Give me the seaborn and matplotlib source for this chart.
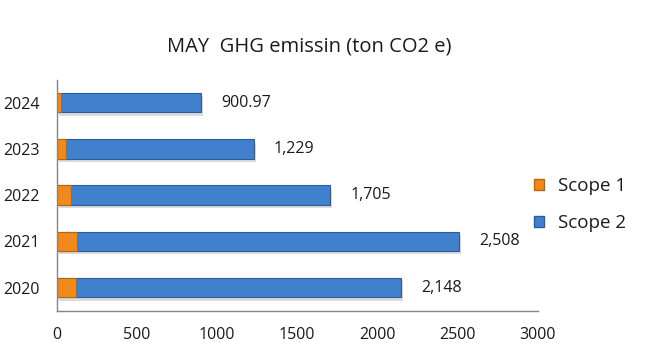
import matplotlib
matplotlib.use("Agg")
import matplotlib.pyplot as plt
import matplotlib.patheffects as pe
from matplotlib.patches import Patch
from matplotlib.ticker import FixedLocator
import seaborn as sns
import pandas as pd

# data
years = ["2024", "2023", "2022", "2021", "2020"]
totals = [900.97, 1229, 1705, 2508, 2148]
scope1 = [29, 58, 89, 128, 122]
total_labels = ["900.97", "1,229", "1,705", "2,508", "2,148"]

sns.set_style("white")
plt.rcParams["font.family"] = ["Open Sans", "DejaVu Sans"]

df = pd.DataFrame({"year": years, "total": totals, "scope1": scope1})

orange = "#F0891E"
blue = "#4180CC"

fig = plt.figure(figsize=(6.45, 3.55), dpi=100)
ax = fig.add_axes([0.0878, 0.125, 0.746, 0.651])

shadow = [pe.SimplePatchShadow(offset=(1.5, -2.5), shadow_rgbFace="#9a9a9a", alpha=0.35), pe.Normal()]

# scope 2 is drawn as the full total, scope 1 on top of it from zero
sns.barplot(data=df, y="year", x="total", order=years, orient="h", color=blue,
            saturation=1, width=0.42, edgecolor="#2E5C98", linewidth=0.8, ax=ax)
n_blue = len(ax.patches)
sns.barplot(data=df, y="year", x="scope1", order=years, orient="h", color=orange,
            saturation=1, width=0.42, edgecolor="#B8650F", linewidth=0.8, ax=ax)
for p in ax.patches[:n_blue]:
    p.set_path_effects(shadow)

for i, (v, lab) in enumerate(zip(totals, total_labels)):
    ax.annotate(lab, xy=(v, i), xytext=(20, 0), textcoords="offset pixels",
                va="center", ha="left", fontsize=11.5, color="#1a1a1a")

ax.set_xlim(0, 3000)
ax.set_ylim(4.5, -0.5)
ax.set_xticks(range(0, 3001, 500))
ax.set_xlabel("")
ax.set_ylabel("")
ax.tick_params(axis="x", which="major", direction="out", length=5, color="#868686",
               labelsize=11.5, labelcolor="#1a1a1a", pad=7)
ax.tick_params(axis="y", which="major", length=0, labelsize=11.5, labelcolor="#1a1a1a", pad=12)
ax.yaxis.set_minor_locator(FixedLocator([-0.5, 0.5, 1.5, 2.5, 3.5, 4.5]))
ax.tick_params(axis="y", which="minor", direction="out", length=5, color="#868686")
for s in ["top", "right"]:
    ax.spines[s].set_visible(False)
for s in ["left", "bottom"]:
    ax.spines[s].set_color("#868686")
    ax.spines[s].set_linewidth(1)
ax.grid(False)

fig.text(0.479, 0.868, "MAY  GHG emissin (ton CO2 e)", ha="center", va="center",
         fontsize=14.5, color="#1a1a1a")

handles = [Patch(facecolor=orange, edgecolor="#B8650F", label="Scope 1"),
           Patch(facecolor=blue, edgecolor="#2E5C98", label="Scope 2")]
fig.legend(handles=handles, loc="center left", bbox_to_anchor=(0.828, 0.424), frameon=False,
           fontsize=13.5, handlelength=0.55, handleheight=0.55, handletextpad=0.75,
           labelspacing=1.0, borderpad=0, borderaxespad=0, labelcolor="#1a1a1a")

fig.savefig("out.png", dpi=100)
